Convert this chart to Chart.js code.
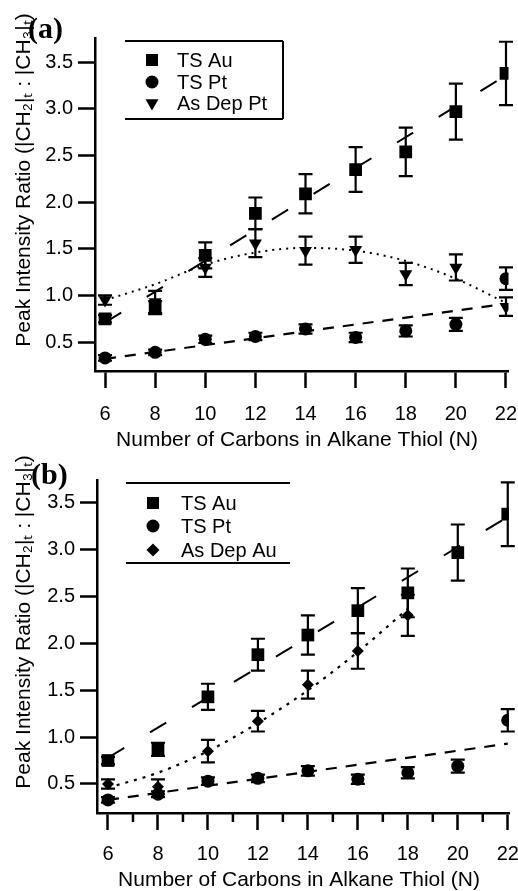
<!DOCTYPE html>
<html>
<head>
<meta charset="utf-8">
<script src="https://cdn.jsdelivr.net/npm/chart.js@4.4.1/dist/chart.umd.min.js"></script>
<style>
  html, body { margin: 0; padding: 0; background: #fff; }
  #wrap { position: relative; width: 518px; height: 891px; overflow: hidden; }
  .panel { position: absolute; left: 0; width: 518px; }
  #panelA { top: 0; height: 460px; }
  #panelB { top: 445px; height: 446px; }
</style>
</head>
<body>
<div id="wrap">
  <div class="panel" id="panelA"><canvas id="chartA"></canvas></div>
  <div class="panel" id="panelB"><canvas id="chartB"></canvas></div>
</div>
<script>
// values
const carbons = [6, 8, 10, 12, 14, 16, 18, 20, 22];
const carbonsAsDepAu = [6, 8, 10, 12, 14, 16, 18];
const fitEnds = [6, 22];
const xTicks = [6, 8, 10, 12, 14, 16, 18, 20, 22];
const xMinorTicks = [7, 9, 11, 13, 15, 17, 19, 21];
const yTicks = [0.5, 1.0, 1.5, 2.0, 2.5, 3.0, 3.5];

const tsAu = [0.75, 0.87, 1.43, 1.88, 2.09, 2.35, 2.54, 2.97, 3.38];
const tsAuErr = [0.04, 0.07, 0.14, 0.17, 0.21, 0.24, 0.26, 0.30, 0.34];
const tsPt = [0.33, 0.39, 0.53, 0.56, 0.64, 0.55, 0.62, 0.69, 1.18];
const tsPtErr = [0.03, 0.03, 0.04, 0.04, 0.05, 0.05, 0.06, 0.07, 0.12];

// panel (a)
const asDepPt = [0.95, 0.93, 1.30, 1.56, 1.48, 1.49, 1.23, 1.30, 0.88];
const asDepPtErr = [0.05, 0.12, 0.10, 0.15, 0.15, 0.14, 0.12, 0.14, 0.10];
const tsAuFitA = [0.71, 3.36];
const tsPtFitA = [0.32, 0.91];
const asDepPtFit = [0.95, 1.12, 1.33, 1.46, 1.51, 1.48, 1.37, 1.18, 0.92];

// panel (b)
const asDepAu = [0.50, 0.47, 0.85, 1.17, 1.56, 1.92, 2.30];
const asDepAuErr = [0.05, 0.08, 0.12, 0.11, 0.15, 0.19, 0.22];
const asDepAuFit = [0.46, 0.62, 0.85, 1.15, 1.50, 1.91, 2.37];
const tsAuFitB = [0.78, 3.35];
const tsPtFitB = [0.33, 0.93];

const SANS = "'Liberation Sans', Arial, sans-serif";
const yTitle = "Peak Intensity Ratio (|CH\u2082|\u209C : |CH\u2083|\u209C)";
const xTitle = "Number of Carbons in Alkane Thiol (N)";

function pts(xs, ys) {
  return xs.map((x, i) => ({ x: x, y: ys[i] }));
}

function makeDecor(cfg) {
  return {
    id: 'decor',
    beforeDatasetsDraw(chart) {
      const ctx = chart.ctx, ys = chart.scales.y;
      ctx.save();
      ctx.strokeStyle = '#000';
      ctx.lineWidth = 2.2;
      chart.data.datasets.forEach((ds, i) => {
        if (!ds.errors) return;
        chart.getDatasetMeta(i).data.forEach((pt, j) => {
          const v = ds.data[j].y, e = ds.errors[j];
          const top = ys.getPixelForValue(v + e), bot = ys.getPixelForValue(v - e);
          ctx.beginPath();
          ctx.moveTo(pt.x, top); ctx.lineTo(pt.x, bot);
          ctx.moveTo(pt.x - 7, top); ctx.lineTo(pt.x + 7, top);
          ctx.moveTo(pt.x - 7, bot); ctx.lineTo(pt.x + 7, bot);
          ctx.stroke();
        });
      });
      ctx.restore();
    },
    afterDraw(chart) {
      const ctx = chart.ctx, xs = chart.scales.x, area = chart.chartArea;
      ctx.save();
      ctx.fillStyle = '#000';
      ctx.strokeStyle = '#000';

      // minor ticks
      if (cfg.minor) {
        ctx.lineWidth = 2.5;
        ctx.beginPath();
        xMinorTicks.forEach(n => {
          const px = xs.getPixelForValue(n);
          ctx.moveTo(px, area.bottom);
          ctx.lineTo(px, area.bottom + 9);
        });
        ctx.stroke();
      }

      // axis titles
      ctx.font = '21px ' + SANS;
      ctx.textAlign = 'center';
      ctx.textBaseline = 'middle';
      ctx.fillText(xTitle, cfg.xTitleX, cfg.xTitleY);
      ctx.save();
      ctx.translate(cfg.yTitleX, cfg.yTitleY);
      ctx.rotate(-Math.PI / 2);
      ctx.fillText(yTitle, 0, 0);
      ctx.restore();

      // panel label
      ctx.font = 'bold 30px "Liberation Serif", "Times New Roman", serif';
      ctx.textAlign = 'left';
      ctx.textBaseline = 'alphabetic';
      ctx.fillText(cfg.label, cfg.labelX, cfg.labelY);

      // legend
      const lg = cfg.legend;
      ctx.lineWidth = 2;
      ctx.beginPath();
      ctx.moveTo(lg.left, lg.top); ctx.lineTo(lg.right, lg.top);
      ctx.moveTo(lg.left, lg.bottom); ctx.lineTo(lg.right, lg.bottom);
      if (lg.rightBorder) {
        ctx.moveTo(lg.right, lg.top); ctx.lineTo(lg.right, lg.bottom);
      }
      ctx.stroke();
      ctx.font = '20px ' + SANS;
      ctx.textBaseline = 'middle';
      lg.items.forEach((it, k) => {
        const yy = lg.rows[k];
        Chart.helpers.drawPoint(ctx, {
          pointStyle: it.style, radius: it.radius, rotation: it.rotation || 0, borderWidth: 0
        }, lg.markerX, yy);
        ctx.fillText(it.text, lg.textX, yy + 1);
      });
      ctx.restore();
    }
  };
}

function scatterSet(label, xs, ys, errs, style, radius, rotation) {
  return {
    type: 'scatter', label: label, data: pts(xs, ys), errors: errs,
    pointStyle: style, pointRadius: radius, pointRotation: rotation || 0,
    pointBackgroundColor: '#000', pointBorderWidth: 0, order: 0
  };
}

function fitSet(xs, ys, dash, width, smooth) {
  return {
    type: 'line', data: pts(xs, ys), showLine: true, pointRadius: 0,
    borderColor: '#000', borderWidth: width, borderDash: dash,
    cubicInterpolationMode: smooth ? 'monotone' : 'default', tension: 0,
    fill: false, order: 1
  };
}

function makeChart(id, datasets, geo, decorCfg) {
  return new Chart(document.getElementById(id), {
    data: { datasets: datasets },
    options: {
      responsive: true,
      maintainAspectRatio: false,
      animation: false,
      events: [],
      layout: { padding: { top: geo.top, right: geo.right, left: 0, bottom: geo.bottom } },
      plugins: { legend: { display: false }, tooltip: { enabled: false } },
      scales: {
        x: {
          type: 'linear', min: geo.xMin, max: geo.xMax,
          border: { color: '#000', width: 2.5 },
          grid: { drawOnChartArea: false, drawTicks: true, tickLength: 17, tickWidth: 2.5, tickColor: '#000' },
          ticks: { color: '#000', font: { family: SANS, size: 20 }, padding: geo.xPad, maxRotation: 0 },
          afterBuildTicks: s => { s.ticks = xTicks.map(v => ({ value: v })); },
          afterFit: s => { s.height = geo.xHeight; s.paddingLeft = 0; s.paddingRight = 0; }
        },
        y: {
          type: 'linear', min: geo.yMin, max: geo.yMax,
          border: { color: '#000', width: 2.5 },
          grid: { drawOnChartArea: false, drawTicks: true, tickLength: 17, tickWidth: 2.5, tickColor: '#000' },
          ticks: { color: '#000', font: { family: SANS, size: 20 }, padding: 5, callback: v => v.toFixed(1) },
          afterBuildTicks: s => { s.ticks = yTicks.map(v => ({ value: v })); },
          afterFit: s => { s.width = geo.yWidth; s.paddingTop = 0; s.paddingBottom = 0; }
        }
      }
    },
    plugins: [makeDecor(decorCfg)]
  });
}

makeChart('chartA', [
  scatterSet('TS Au', carbons, tsAu, tsAuErr, 'rect', 9),
  scatterSet('TS Pt', carbons, tsPt, tsPtErr, 'circle', 6.5),
  scatterSet('As Dep Pt', carbons, asDepPt, asDepPtErr, 'triangle', 7.5, 180),
  fitSet(fitEnds, tsAuFitA, [19, 30], 2, false),
  fitSet(fitEnds, tsPtFitA, [11, 9], 2.2, false),
  fitSet(carbons, asDepPtFit, [2, 5], 2, true)
], {
  top: 38, right: 9.5, bottom: 15, xMin: 5.6, xMax: 22.1, yMin: 0.19, yMax: 3.76,
  xHeight: 74, yWidth: 95, xPad: 14
}, {
  label: '(a)', labelX: 28, labelY: 38,
  xTitleX: 297, xTitleY: 440, yTitleX: 24, yTitleY: 180,
  minor: false,
  legend: {
    left: 125, right: 283, top: 41, bottom: 119, rightBorder: true,
    markerX: 152, textX: 177, rows: [60, 82, 103],
    items: [
      { style: 'rect', radius: 8.5, text: 'TS Au' },
      { style: 'circle', radius: 6.5, text: 'TS Pt' },
      { style: 'triangle', radius: 7.5, rotation: 180, text: 'As Dep Pt' }
    ]
  }
});

makeChart('chartB', [
  scatterSet('TS Au', carbons, tsAu, tsAuErr, 'rect', 9),
  scatterSet('TS Pt', carbons, tsPt, tsPtErr, 'circle', 6.5),
  scatterSet('As Dep Au', carbonsAsDepAu, asDepAu, asDepAuErr, 'rectRot', 6),
  fitSet(fitEnds, tsAuFitB, [19, 30], 2, false),
  fitSet(fitEnds, tsPtFitB, [11, 9], 2.2, false),
  fitSet(carbonsAsDepAu, asDepAuFit, [3, 6], 2.2, true)
], {
  top: 35, right: 9, bottom: 0, xMin: 5.56, xMax: 22.05, yMin: 0.19, yMax: 3.745,
  xHeight: 78, yWidth: 97, xPad: 12
}, {
  label: '(b)', labelX: 31, labelY: 39,
  xTitleX: 299, xTitleY: 435, yTitleX: 24, yTitleY: 177,
  minor: true,
  legend: {
    left: 126, right: 290, top: 38, bottom: 118, rightBorder: false,
    markerX: 153, textX: 181, rows: [58, 81, 105],
    items: [
      { style: 'rect', radius: 8.5, text: 'TS Au' },
      { style: 'circle', radius: 6.5, text: 'TS Pt' },
      { style: 'rectRot', radius: 6.5, text: 'As Dep Au' }
    ]
  }
});
</script>
</body>
</html>
